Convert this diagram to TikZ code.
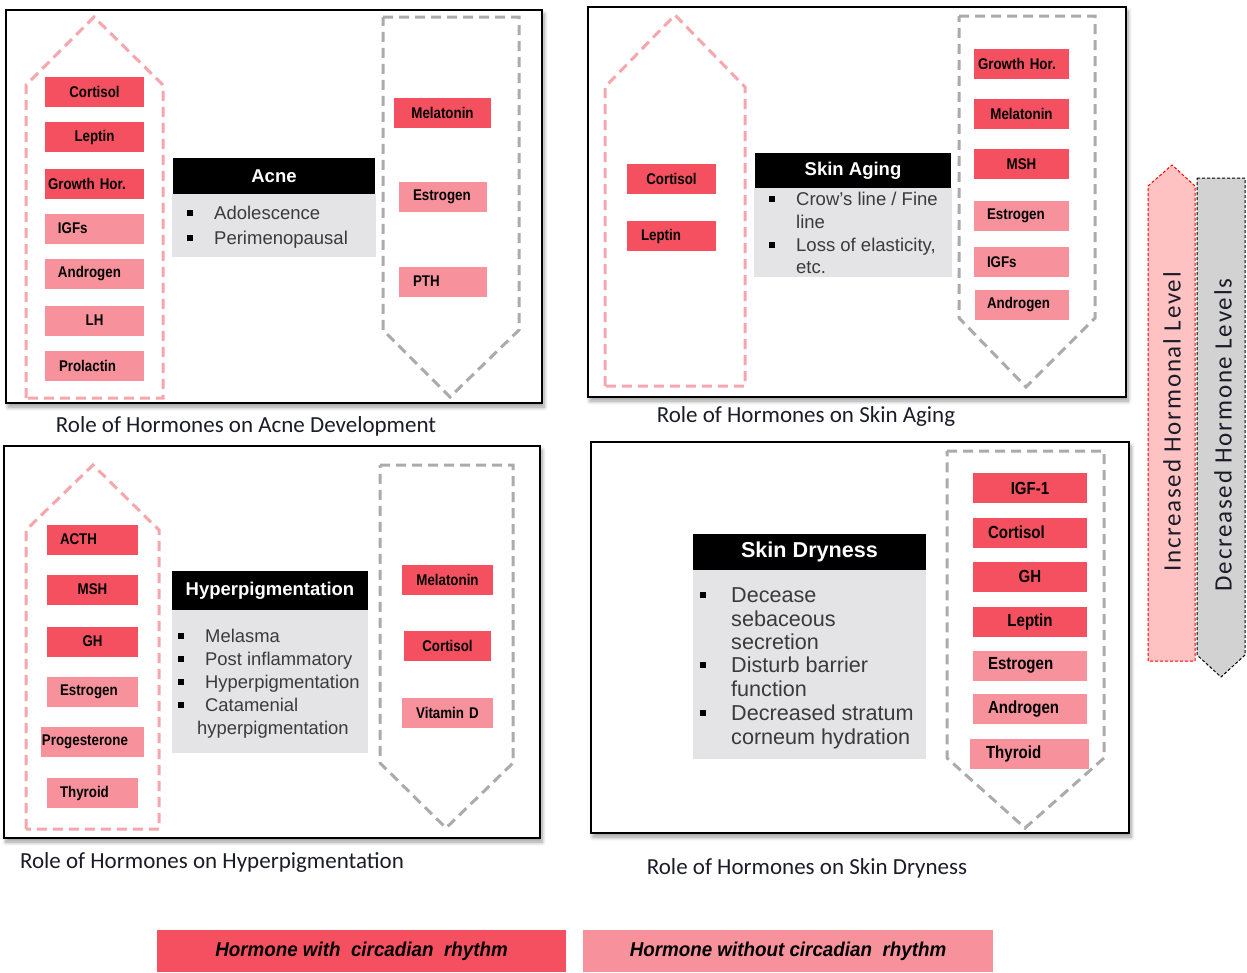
\documentclass[tikz,border=0pt]{standalone}
\usepackage{fontspec}
\setmainfont{Liberation Sans}
\newfontfamily\narrowsans[FakeStretch=0.86]{Liberation Sans}
\newfontfamily\legfont[FakeStretch=0.94]{Liberation Sans}
\newfontfamily\capfont{Carlito}
\newfontfamily\sidefont[LetterSpace=7]{Carlito}
\usetikzlibrary{shadows,shadows.blur}
\definecolor{hdark}{HTML}{F5505F}
\definecolor{hlight}{HTML}{F7929C}
\definecolor{bodygray}{HTML}{E4E4E6}
\definecolor{pinkdash}{HTML}{F8A6AD}
\definecolor{graydash}{HTML}{ABABAB}
\definecolor{bodytext}{HTML}{3A3A3A}
\definecolor{captext}{HTML}{1C1C28}
\definecolor{uppink}{HTML}{FFC2C2}
\definecolor{downgray}{HTML}{D2D2D2}
\begin{document}
\begin{tikzpicture}[x=1pt,y=-1pt,
  panel/.style={draw=black, line width=2pt, fill=white,
    blur shadow={shadow xshift=2pt, shadow yshift=-4pt, shadow blur steps=8, shadow blur radius=4pt}},
  uparr/.style={draw=pinkdash, line width=3pt, dash pattern=on 10pt off 6pt},
  downarr/.style={draw=graydash, line width=3pt, dash pattern=on 10pt off 6pt},
  hb/.style={minimum height=30, inner sep=0pt, text=black, font=\narrowsans\bfseries\fontsize{15.5}{15.5}\selectfont},
  hbl/.style={hb, font=\narrowsans\bfseries\fontsize{17.5}{17.5}\selectfont},
  dk/.style={fill=hdark},
  lt/.style={fill=hlight},
  bw/.style={text width=#1, minimum width=#1},
  ctr/.style={align=center},
  lft/.style={align=left},
  header/.style={fill=black, text=white, inner sep=0pt, font=\bfseries\fontsize{18.5}{18.5}\selectfont},
  body/.style={fill=bodygray, inner sep=0pt},
  item/.style={anchor=base west, inner sep=0pt, align=left, text=bodytext},
  bul/.style={fill=black, inner sep=0pt, minimum size=5.5pt},
  caption/.style={text=captext, font=\capfont\fontsize{23}{23}\selectfont},
  sidetext/.style={rotate=90, text=captext, font=\sidefont\fontsize{25}{25}\selectfont},
  legend/.style={minimum height=42, inner sep=0pt, text=black, font=\legfont\bfseries\itshape\fontsize{20}{20}\selectfont}
]
\useasboundingbox (0,0) rectangle (1247,972);

% ---------------- Panel 1: Acne ----------------
\draw[panel] (6,10) rectangle (542,403);
\draw[uparr] (26,398) -- (26,85) -- (94,17) -- (163,85) -- (163,398) -- cycle;
\draw[downarr] (383,17) -- (519,17) -- (519,330) -- (450,397) -- (383,330) -- cycle;
\node[hb,dk,bw=99,ctr] (a1) at (94.5,91.5) {Cortisol};
\node[hb,dk,bw=99,ctr] (a2) at (94.5,137) {Leptin};
\node[hb,dk,bw=99,lft] (a3) at (94.5,183.5) {\hspace*{3pt}Growth Hor.};
\node[hb,lt,bw=99,lft] (a4) at (94.5,228.5) {\hspace*{13pt}IGFs};
\node[hb,lt,bw=99,lft] (a5) at (94.5,273.5) {\hspace*{13pt}Androgen};
\node[hb,lt,bw=99,ctr] (a6) at (94.5,320.5) {LH};
\node[hb,lt,bw=99,lft] (a7) at (94.5,365.5) {\hspace*{14pt}Prolactin};
\node[hb,dk,bw=97,ctr] (a8) at (442.5,113) {Melatonin};
\node[hb,lt,bw=88,lft] (a9) at (443,197) {\hspace*{14pt}Estrogen};
\node[hb,lt,bw=88,lft] (a10) at (443,281.5) {\hspace*{14pt}PTH};
\node[header,minimum width=202,minimum height=37] (ah) at (274,176) {Acne};
\node[body,minimum width=204,minimum height=63] (ab) at (274,225.5) {};
\node[bul] (ab1) at (190,213) {};
\node[bul] (ab2) at (190,238) {};
\node[item,font=\fontsize{18.5}{25}\selectfont] (at1) at (214,219.5) {Adolescence};
\node[item,font=\fontsize{18.5}{25}\selectfont] (at2) at (214,244.5) {Perimenopausal};
\node[caption] (acap) at (246,426) {Role of Hormones on Acne Development};

% ---------------- Panel 2: Skin Aging ----------------
\draw[panel] (588,7) rectangle (1126,397);
\draw[uparr] (605,386) -- (605,87) -- (675,15) -- (745,87) -- (745,386) -- cycle;
\draw[downarr] (959,16) -- (1095,16) -- (1095,318) -- (1026,387) -- (959,318) -- cycle;
\node[hb,dk,bw=89,ctr] (b1) at (671.5,178.5) {Cortisol};
\node[hb,dk,bw=89,lft] (b2) at (671.5,236) {\hspace*{14pt}Leptin};
\node[hb,dk,bw=95,lft] (b3) at (1021.5,64) {\hspace*{4pt}Growth Hor.};
\node[hb,dk,bw=95,ctr] (b4) at (1021.5,114) {Melatonin};
\node[hb,dk,bw=95,ctr] (b5) at (1021.5,164) {MSH};
\node[hb,lt,bw=95,lft] (b6) at (1021.5,216) {\hspace*{13pt}Estrogen};
\node[hb,lt,bw=95,lft] (b7) at (1021.5,262) {\hspace*{13pt}IGFs};
\node[hb,lt,bw=94,lft] (b8) at (1022,304.5) {\hspace*{12pt}Androgen};
\node[header,minimum width=196,minimum height=35] (bh) at (853,170.5) {Skin Aging};
\node[body,minimum width=198,minimum height=89] (bb) at (853,232.5) {};
\node[bul] (bb1) at (772,199) {};
\node[bul] (bb2) at (772,245) {};
\node[item,font=\fontsize{18.5}{22.7}\selectfont] (bt1) at (796,228.2) {Crow's line / Fine\\line};
\node[item,font=\fontsize{18.5}{22.7}\selectfont] (bt2) at (796,273.7) {Loss of elasticity,\\etc.};
\node[caption] (bcap) at (806,416) {Role of Hormones on Skin Aging};

% ---------------- Panel 3: Hyperpigmentation ----------------
\draw[panel] (4,446) rectangle (540,838);
\draw[uparr] (26,829) -- (26,530) -- (93,465) -- (159,530) -- (159,829) -- cycle;
\draw[downarr] (380,465) -- (513,465) -- (513,763) -- (446,828) -- (380,763) -- cycle;
\node[hb,dk,bw=91,lft] (c1) at (92.5,539.5) {\hspace*{13pt}ACTH};
\node[hb,dk,bw=91,ctr] (c2) at (92.5,589.5) {MSH};
\node[hb,dk,bw=91,ctr] (c3) at (92.5,641.5) {GH};
\node[hb,lt,bw=91,lft] (c4) at (92.5,691.5) {\hspace*{13pt}Estrogen};
\node[hb,lt,bw=103,lft] (c5) at (92.5,742) {\hspace*{1pt}Progesterone};
\node[hb,lt,bw=91,lft] (c6) at (92.5,793) {\hspace*{13pt}Thyroid};
\node[hb,dk,bw=91,ctr] (c7) at (447.5,579.5) {Melatonin};
\node[hb,dk,bw=87,ctr] (c8) at (447.5,646) {Cortisol};
\node[hb,lt,bw=91,ctr] (c9) at (447.5,712.5) {Vitamin D};
\node[header,minimum width=196,minimum height=39] (ch) at (270,590.5) {Hyperpigmentation};
\node[body,minimum width=196,minimum height=143] (cb) at (270,681.5) {};
\node[bul] (cb1) at (181,636) {};
\node[bul] (cb2) at (181,659) {};
\node[bul] (cb3) at (181,682) {};
\node[bul] (cb4) at (181,705) {};
\node[item,font=\fontsize{18.4}{23}\selectfont] (ct1) at (205,642.5) {Melasma};
\node[item,font=\fontsize{18.4}{23}\selectfont] (ct2) at (205,665.5) {Post inflammatory};
\node[item,font=\fontsize{18.4}{23}\selectfont] (ct3) at (205,688.5) {Hyperpigmentation};
\node[item,font=\fontsize{18.4}{23}\selectfont] (ct4) at (205,711.5) {Catamenial};
\node[item,font=\fontsize{18.4}{23}\selectfont] (ct5) at (197,734) {hyperpigmentation};
\node[caption] (ccap) at (212,862) {Role of Hormones on Hyperpigmentation};

% ---------------- Panel 4: Skin Dryness ----------------
\draw[panel] (591,442) rectangle (1129,833);
\draw[downarr] (947,451) -- (1104,451) -- (1104,758) -- (1025,828) -- (947,758) -- cycle;
\node[hbl,dk,bw=114,ctr] (d1) at (1030,488) {IGF-1};
\node[hbl,dk,bw=114,lft] (d2) at (1030,532.5) {\hspace*{15pt}Cortisol};
\node[hbl,dk,bw=114,ctr] (d3) at (1030,576.5) {GH};
\node[hbl,dk,bw=114,ctr] (d4) at (1030,621.5) {Leptin};
\node[hbl,lt,bw=114,lft] (d5) at (1030,665.5) {\hspace*{15pt}Estrogen};
\node[hbl,lt,bw=114,lft] (d6) at (1030,709) {\hspace*{15pt}Androgen};
\node[hbl,lt,bw=119,lft] (d7) at (1029.5,754) {\hspace*{16pt}Thyroid};
\node[header,minimum width=233,minimum height=36,font=\bfseries\fontsize{21.6}{21.6}\selectfont] (dh) at (809.5,552) {Skin Dryness};
\node[body,minimum width=233,minimum height=189] (db) at (809.5,664.5) {};
\node[bul] (db1) at (703,595) {};
\node[bul] (db2) at (703,665) {};
\node[bul] (db3) at (703,713) {};
\node[item,font=\fontsize{21.6}{23.7}\selectfont] (dt1) at (731,649.9) {Decease\\sebaceous\\secretion};
\node[item,font=\fontsize{21.6}{23.7}\selectfont] (dt2) at (731,696.2) {Disturb barrier\\function};
\node[item,font=\fontsize{21.6}{23.7}\selectfont] (dt3) at (731,744.2) {Decreased stratum\\corneum hydration};
\node[caption] (dcap) at (807,868) {Role of Hormones on Skin Dryness};

% ---------------- Side arrows ----------------
\draw[fill=uppink, draw=red, line width=1pt, dash pattern=on 3pt off 2pt]
  (1148,661) -- (1148,186) -- (1172,165) -- (1195,186) -- (1195,661) -- cycle;
\draw[fill=downgray, draw=black, line width=1pt, dash pattern=on 3pt off 2pt]
  (1197,178) -- (1245,178) -- (1245,655) -- (1221,677) -- (1197,655) -- cycle;
\node[sidetext] (inc) at (1172,422) {Increased Hormonal Level};
\node[sidetext] (dec) at (1223,435) {Decreased Hormone Levels};

% ---------------- Legend ----------------
\node[legend, fill=hdark, minimum width=409] (leg1) at (361.5,951) {Hormone with\ \ circadian\ \ rhythm};
\node[legend, fill=hlight, minimum width=410] (leg2) at (788,951) {Hormone without circadian\ \ rhythm};
\end{tikzpicture}
\end{document}
